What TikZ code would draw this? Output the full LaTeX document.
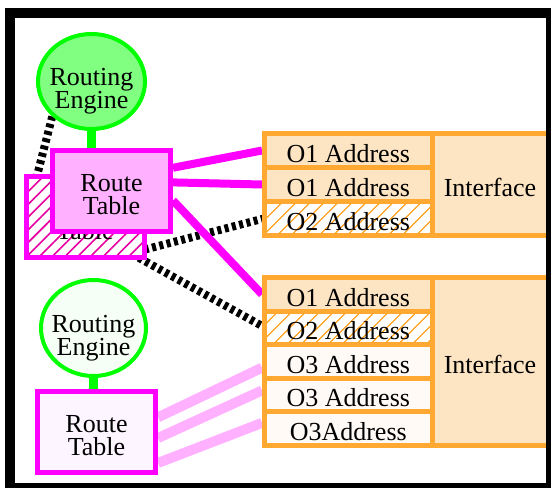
\documentclass[tikz,border=0pt]{standalone}
\usepackage{fontspec}
\setmainfont{Liberation Serif}
\usetikzlibrary{shapes.geometric,patterns.meta,calc,backgrounds}
\definecolor{engline}{RGB}{0,255,0}
\definecolor{engfillA}{RGB}{128,255,128}
\definecolor{engfillB}{RGB}{245,255,245}
\definecolor{rtline}{RGB}{255,0,255}
\definecolor{rtfillA}{RGB}{255,176,255}
\definecolor{rtfillB}{RGB}{253,245,255}
\definecolor{hatchpink}{RGB}{230,0,160}
\definecolor{orline}{RGB}{255,168,50}
\definecolor{orfill}{RGB}{253,228,194}
\definecolor{palefill}{RGB}{255,250,246}
\begin{document}
\begin{tikzpicture}[x=1pt,y=-1pt,
  font=\fontsize{26}{23}\selectfont,
  engine/.style={ellipse, draw=engline, line width=4pt, inner sep=0pt},
  label text/.style={inner sep=0pt, align=center},
  rtbox/.style={rectangle, draw=rtline, line width=5pt, inner sep=0pt,
    minimum width=118pt, minimum height=81pt},
  cell/.style={rectangle, draw=orline, line width=5pt, inner sep=0pt,
    minimum width=167.5pt, text height=23.6pt, text depth=0pt},
  ifcell/.style={rectangle, draw=orline, fill=orfill, line width=5pt,
    inner sep=0pt, minimum width=116pt, text height=24pt, text depth=0pt},
  hatchorange/.style={preaction={fill=white},
    pattern={Lines[angle=45,distance=10.5pt,line width=1.5pt]}, pattern color=orline},
  hatchpinkbox/.style={preaction={fill=white},
    pattern={Lines[angle=45,distance=9pt,line width=1.6pt]}, pattern color=hatchpink},
  link/.style={line width=9pt, engline},
  strong/.style={line width=8pt, rtline},
  weak/.style={line width=10pt, rtfillA},
  dotted link/.style={line width=8pt, black, dash pattern=on 4pt off 3.5pt},
]
\useasboundingbox (0,0) rectangle (551,487);

% upper router: engine, a shadowed table behind, and its own table
\node[engine, fill=engfillA, minimum width=107pt, minimum height=95pt] (re1) at (91.5,81.5) {};
\node[label text] (re1text) at ([yshift=-10pt]re1.center) {Routing\\Engine};
\node[rtbox, hatchpinkbox] (rtb) at (85,216.5) {};
\node[label text] (rtbtext) at ([yshift=-3.5pt]rtb.center) {Route\\Table};
\node[rtbox, fill=rtfillA] (rt1) at (111.5,191) {};
\node[label text] (rt1text) at ([yshift=-3.5pt]rt1.center) {Route\\Table};

% lower router
\node[engine, fill=engfillB, minimum width=105pt, minimum height=96pt] (re2) at (93.5,328) {};
\node[label text] (re2text) at ([yshift=-10pt]re2.center) {Routing\\Engine};
\node[rtbox, fill=rtfillB] (rt2) at (96.5,432) {};
\node[label text] (rt2text) at ([yshift=-3.5pt]rt2.center) {Route\\Table};

% upper interface
\node[cell, fill=orfill, minimum height=34pt] (a1) at (348.25,150.5) {O1 Address};
\node[cell, fill=orfill, minimum height=34pt] (a2) at (348.25,184.5) {O1 Address};
\node[cell, hatchorange, minimum height=34pt] (a3) at (348.25,218.5) {O2 Address};
\node[ifcell, minimum height=102pt] (if1) at (490,184.5) {Interface};

% lower interface
\node[cell, fill=orfill, minimum height=33.6pt] (b1) at (348.25,294.3) {O1 Address};
\node[cell, hatchorange, minimum height=33.6pt] (b2) at (348.25,327.9) {O2 Address};
\node[cell, fill=palefill, minimum height=33.6pt] (c3) at (348.25,361.5) {O3 Address};
\node[cell, fill=palefill, minimum height=33.6pt] (c4) at (348.25,395.1) {O3 Address};
\node[cell, fill=palefill, minimum height=33.6pt] (c5) at (348.25,428.7) {O3Address};
\node[ifcell, minimum height=168pt] (if2) at (490,361.5) {Interface};

\begin{scope}[on background layer]
  \draw[link] (re1.south) -- (re1.south |- rt1.north);
  \draw[link] (re2.south) -- (re2.south |- rt2.north);
  \draw[dotted link] (re1.south west) -- ($(rtb.north west)!0.1!(rtb.north east)$);
  \draw[dotted link] ($(rtb.north east)!0.9!(rtb.south east)$) -- (a3.west);
  \draw[dotted link] ($(rtb.south west)!0.95!(rtb.south east)$) -- ($(b2.north west)!0.45!(b2.south west)$);
  \draw[strong] ($(rt1.north east)!0.23!(rt1.south east)$) -- (a1.west);
  \draw[strong] ($(rt1.north east)!0.40!(rt1.south east)$) -- (a2.west);
  \draw[strong] ($(rt1.north east)!0.61!(rt1.south east)$) -- (b1.west);
  \draw[weak] ($(rt2.north east)!0.33!(rt2.south east)$) -- ($(c3.north west)!0.66!(c3.south west)$);
  \draw[weak] ($(rt2.north east)!0.57!(rt2.south east)$) -- ($(c4.north west)!0.38!(c4.south west)$);
  \draw[weak] ($(rt2.north east)!0.86!(rt2.south east)$) -- ($(c5.north west)!0.35!(c5.south west)$);
\end{scope}

% outer frame
\draw[line width=10pt, black] (10,13) rectangle (551,488);
\end{tikzpicture}
\end{document}
